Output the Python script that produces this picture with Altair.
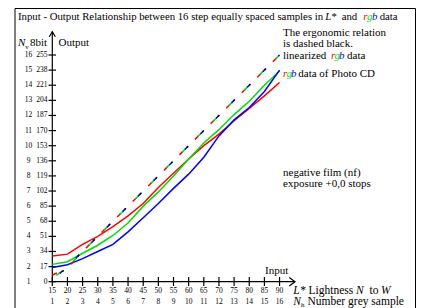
import altair as alt
import pandas as pd

# ---------------- data ----------------
L_STAR = [15, 20, 25, 30, 35, 40, 45, 50, 55, 60, 65, 70, 75, 80, 85, 90]
N_H = list(range(1, 17))
OUT_8BIT = [0, 17, 34, 51, 68, 85, 102, 119, 136, 153, 170, 187, 204, 221, 238, 255]
N_V = list(range(1, 17))

RED_CD = [29, 31, 42, 51, 62, 74, 88, 106, 122, 138, 153, 166, 181, 195, 209, 224]
GREEN_CD = [19.5, 22.5, 32, 41, 52, 66, 85, 101, 119, 138, 156, 171, 188, 203, 221, 237]
BLUE_CD = [16, 19, 26, 34, 42, 56, 72, 88, 105, 121, 140, 164, 182, 196, 214, 238]

IDEAL = [0, 17, 34, 51, 68, 85, 102, 119, 136, 153, 170, 187, 204, 221, 238, 255]
RED_LIN = [7.5, 15, 34, 51, 68, 85, 102, 119, 136, 153, 170, 187, 204, 221, 238, 255]
GREEN_LIN = [4, 16, 34, 51, 68, 85, 102, 119, 136, 153, 170, 187, 204, 221, 238, 255]
BLUE_LIN = [2, 17, 34, 51, 68, 85, 102, 119, 136, 153, 170, 187, 204, 221, 238, 255]

# axis extents (data units)
Y_AXIS_TOP = 281.2
X_AXIS_END = 95.1

W, H = 408, 300
FONT = "Liberation Serif"
RED, GREEN, BLUE = "#ff0000", "#00dd00", "#0000ff"

xs = alt.Scale(domain=[0.38, 135.03], nice=False, zero=False)
ys = alt.Scale(domain=[-29.58, 307.87], nice=False, zero=False)


def X(f="L"):
    return alt.X(f"{f}:Q", scale=xs, axis=None)


def Y(f="v"):
    return alt.Y(f"{f}:Q", scale=ys, axis=None)


def series_df(vals):
    return pd.DataFrame({"L": L_STAR, "v": vals})


one = pd.DataFrame({"a": [0]})


def txt(s, x, y, size=11, color="black", style="normal", align="left", baseline="middle"):
    # x, y given in page pixels; view origin is at page (8, 8)
    return alt.Chart(one).mark_text(
        text=s, font=FONT, fontSize=size, color=color, fontStyle=style,
        align=align, baseline=baseline
    ).encode(x=alt.value(x - 8), y=alt.value(y - 8))


def rule_px(x, x2, y, y2, w=1):
    return alt.Chart(one).mark_rule(color="black", strokeWidth=w).encode(
        x=alt.value(x), x2=alt.value(x2), y=alt.value(y), y2=alt.value(y2))


def tx(x):
    # title piece positions, slightly compressed so the title fits the frame
    return 18 + (x - 18) * 0.975


layers = []

# frame
layers += [
    rule_px(7, 7, 0.5, H),
    rule_px(7, 407.5, 0.5, 0.5),
    rule_px(407.5, 407.5, 0.5, H),
]

# axes lines
ax_y = pd.DataFrame({"L": [15], "v": [0], "v2": [Y_AXIS_TOP]})
layers.append(alt.Chart(ax_y).mark_rule(color="black", strokeWidth=1.2).encode(
    x=X(), y=Y(), y2="v2:Q"))
ax_x = pd.DataFrame({"L": [15], "L2": [X_AXIS_END], "v": [0]})
layers.append(alt.Chart(ax_x).mark_rule(color="black", strokeWidth=1.2).encode(
    x=X(), x2="L2:Q", y=Y()))
# arrow heads
layers.append(alt.Chart(pd.DataFrame({"L": [15], "v": [Y_AXIS_TOP]})).mark_point(
    shape="M -0.6 1 L 0 0 L 0.6 1", filled=False, size=100, color="black",
    strokeWidth=1.2, opacity=1).encode(x=X(), y=Y()))
layers.append(alt.Chart(pd.DataFrame({"L": [X_AXIS_END], "v": [0]})).mark_point(
    shape="M -0.95 -0.7 L 0 0 L -0.95 0.7", filled=False, size=144, color="black",
    strokeWidth=1.2, opacity=1).encode(x=X(), y=Y()))

# ticks
layers.append(alt.Chart(pd.DataFrame({"v": OUT_8BIT})).mark_rule(
    color="black", strokeWidth=1.2).encode(x=alt.value(40.5), x2=alt.value(48), y=Y()))
layers.append(alt.Chart(pd.DataFrame({"L": L_STAR})).mark_rule(
    color="black", strokeWidth=1.2).encode(x=X(), y=alt.value(269), y2=alt.value(278)))

# tick labels
ylab = pd.DataFrame({"v": OUT_8BIT, "b": [str(o) for o in OUT_8BIT], "n": [str(n) for n in N_V]})
layers.append(alt.Chart(ylab).mark_text(font=FONT, fontSize=7.5, align="right", baseline="middle").encode(
    x=alt.value(39.5), y=Y(), text="b:N"))
layers.append(alt.Chart(ylab).mark_text(font=FONT, fontSize=7.5, align="center", baseline="middle").encode(
    x=alt.value(20.5), y=Y(), text="n:N"))
xlab = pd.DataFrame({"L": L_STAR, "l": [str(v) for v in L_STAR], "n": [str(n) for n in N_H]})
layers.append(alt.Chart(xlab).mark_text(font=FONT, fontSize=7.5, align="center", baseline="middle").encode(
    x=X(), y=alt.value(282.7), text="l:N"))
layers.append(alt.Chart(xlab).mark_text(font=FONT, fontSize=7.5, align="center", baseline="middle").encode(
    x=X(), y=alt.value(293.7), text="n:N"))

# Photo CD data (solid)
for vals, col in [(RED_CD, RED), (GREEN_CD, GREEN), (BLUE_CD, BLUE)]:
    layers.append(alt.Chart(series_df(vals)).mark_line(color=col, strokeWidth=1.5).encode(x=X(), y=Y()))

# linearized (dashed, multi-coloured) and ergonomic ideal (black)
for vals, col, dash, off in [
    (RED_LIN, RED, [5, 17], 0),
    (GREEN_LIN, GREEN, [5, 17], 17),
    (BLUE_LIN, BLUE, [4, 18], 12),
    (IDEAL, "black", [2, 20], 8),
]:
    layers.append(alt.Chart(series_df(vals)).mark_line(
        color=col, strokeWidth=1.5, strokeDash=dash, strokeDashOffset=off).encode(x=X(), y=Y()))

# ---------------- texts ----------------
TS = 10.75
layers += [
    txt("Input - Output Relationship between 16 step equally spaced samples in", 18, 16.5, size=TS),
    txt("L*", tx(333), 16.5, size=TS, style="italic"),
    txt("and", tx(350), 16.5, size=TS),
    txt("r", tx(372), 16.5, size=TS, color=RED, style="italic"),
    txt("g", tx(376), 16.5, size=TS, color=GREEN, style="italic"),
    txt("b", tx(381), 16.5, size=TS, color=BLUE, style="italic"),
    txt("data", tx(389), 16.5, size=TS),

    txt("N", 18, 43, style="italic"),
    txt("v", 25.3, 46.5, size=7),
    txt("8bit", 30, 43),
    txt("Output", 58.5, 43),

    txt("The ergonomic relation", 283, 33.3),
    txt("is dashed black.", 283, 44),
    txt("linearized", 283, 55.7),
    txt("r", 331, 55.7, color=RED, style="italic"),
    txt("g", 334.5, 55.7, color=GREEN, style="italic"),
    txt("b", 339, 55.7, color=BLUE, style="italic"),
    txt("data", 347, 55.7),
    txt("r", 283, 74.3, color=RED, style="italic"),
    txt("g", 286.5, 74.3, color=GREEN, style="italic"),
    txt("b", 291, 74.3, color=BLUE, style="italic"),
    txt("data of Photo CD", 298.3, 74.3),

    txt("negative film (nf)", 283, 173.3),
    txt("exposure +0,0 stops", 283, 184),

    txt("Input", 265, 270.7),
    txt("L*", 293.3, 290.7, size=11.5, style="italic"),
    txt("Lightness", 308.5, 290.7, size=11.5),
    txt("N", 356, 290.7, size=11.5, style="italic"),
    txt("to", 369.5, 290.7, size=11.5),
    txt("W", 381, 290.7, size=11.5, style="italic"),
    txt("N", 293.3, 301.7, size=11.5, style="italic"),
    txt("h", 301, 304.5, size=7),
    txt("Number grey sample", 307.5, 301.7, size=11.5),
]

chart = alt.layer(*layers).properties(
    width=W, height=H, padding=0,
    autosize=alt.AutoSizeParams(type="none"),
    background="white",
).configure_view(stroke=None)

chart.save("out.html", embed_options={"renderer": "svg", "actions": False})
